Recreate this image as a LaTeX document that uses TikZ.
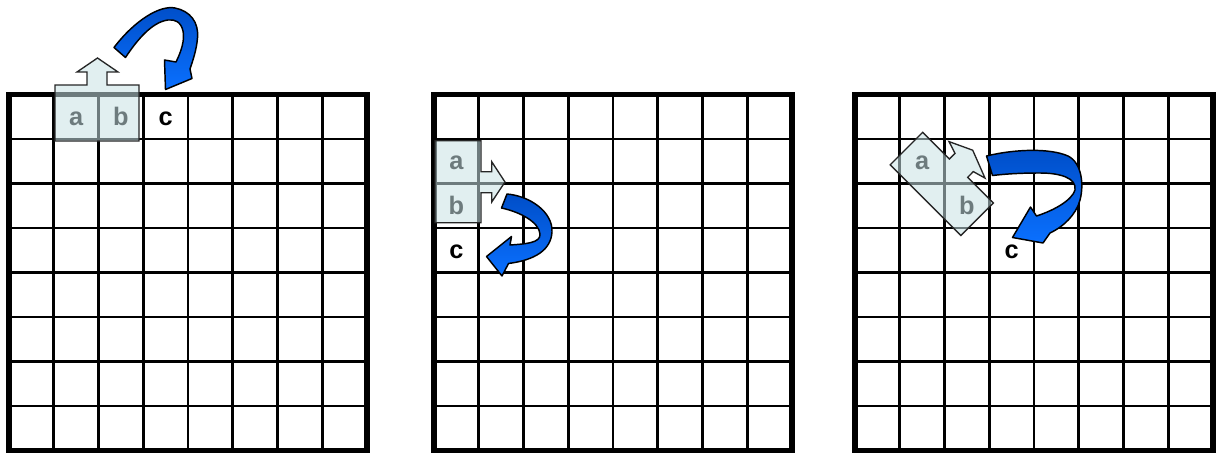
\documentclass[tikz,border=0pt]{standalone}
\usepackage{fontspec}
\setmainfont{Liberation Sans}
\definecolor{ovl}{RGB}{200,225,228}
\definecolor{bdark}{RGB}{0,78,200}
\definecolor{blight}{RGB}{10,112,255}
\begin{document}
\begin{tikzpicture}[x=0.75pt,y=-0.75pt,
  gridline/.style={line width=2pt, black},
  border/.style={line width=4pt, black},
  lbl/.style={font=\fontsize{19}{22}\selectfont\bfseries, anchor=base, inner sep=0pt},
  overlay/.style={fill=ovl, fill opacity=0.55, draw=black!85, line width=1pt, line join=miter},
  bluearrow/.style={draw=black, line width=1.1pt, top color=bdark, bottom color=blight, line join=round}]
\useasboundingbox (0,0) rectangle (1216,453);
% grids
\foreach \gx in {9,434,855} {
  \foreach \i in {1,...,7} {
    \draw[gridline] ({\gx+\i*44.75},94.5) -- ({\gx+\i*44.75},450.5);
    \draw[gridline] (\gx,{94.5+\i*44.5}) -- ({\gx+358},{94.5+\i*44.5});
  }
  \draw[border] (\gx,94.5) rectangle ({\gx+358},450.5);
}
% labels
\node[lbl] (a1) at (76.1,125.25) {a};
\node[lbl] (b1) at (120.9,125.25) {b};
\node[lbl] (c1) at (165.6,125.25) {c};
\node[lbl] (a2) at (456.4,169.75) {a};
\node[lbl] (b2) at (456.4,214.25) {b};
\node[lbl] (c2) at (456.4,258.75) {c};
\node[lbl] (a3) at (922.1,169.75) {a};
\node[lbl] (b3) at (966.9,214.25) {b};
\node[lbl] (c3) at (1011.6,258.75) {c};
% overlays
\draw[overlay] (55,141) -- (55,85) -- (87,85) -- (87,72) -- (77,72) -- (97.5,58) -- (118,72) -- (107,72) -- (107,85) -- (139,85) -- (139,141) -- cycle;
\draw[overlay] (435,140.7) -- (481,140.7) -- (481,171.7) -- (491.7,171.7) -- (491.7,161.7) -- (505,182) -- (491.7,202) -- (491.7,192.7) -- (481,192.7) -- (481,222.7) -- (435,222.7) -- cycle;
\draw[overlay] (922.7,132.3) -- (949.4,159.0) -- (955.0,153.3) -- (949.0,141.6) -- (972.7,150.2) -- (985.0,178.1) -- (973.3,171.6) -- (967.7,177.3) -- (993.4,203.0) -- (960.9,235.5) -- (890.2,164.8) -- cycle;
% blue curved arrows
\draw[bluearrow] (114,47.5) .. controls (135,20) and (160,5) .. (175,8) .. controls (190,11) and (199,22) .. (197.5,38) .. controls (196.5,50) and (193,60) .. (190,69) -- (192,78.5) -- (165.5,89.5) -- (164.5,60) -- (176,62) .. controls (181,52) and (185,40) .. (183,31) .. controls (181,22) and (175,19) .. (168,20) .. controls (152,22) and (137,40) .. (125.5,57.5) -- cycle;
\draw[bluearrow] (507,194) .. controls (530,196) and (553,212) .. (552,232) .. controls (551,250) and (535,260) .. (508.5,263.5) -- (502,276) -- (486.5,256.5) -- (511.5,236.5) -- (510,245) .. controls (525,244) and (541,243) .. (540,234) .. controls (539,222) and (520,212) .. (501.5,208) -- cycle;
\draw[bluearrow] (986.5,156) .. controls (1015,149) and (1050,148) .. (1068,156) .. controls (1082,163) and (1084,185) .. (1080,200) .. controls (1076,215) and (1063,227) .. (1050,233) -- (1043,243) -- (1012.5,237.5) -- (1030.5,207) -- (1036.5,216) .. controls (1055,210) and (1072,200) .. (1075,190) .. controls (1077,178) and (1060,173) .. (1040,173) .. controls (1020,173) and (1005,174) .. (992.5,175.5) -- cycle;
\end{tikzpicture}
\end{document}
